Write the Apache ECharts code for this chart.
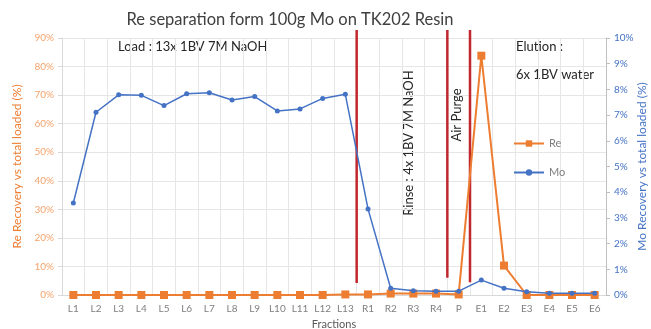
<!DOCTYPE html>
<html>
<head>
<meta charset="utf-8">
<script src="https://cdn.jsdelivr.net/npm/echarts@6/dist/echarts.min.js"></script>
<style>
  html, body { margin: 0; padding: 0; background: #fff; }
  #chart { width: 651px; height: 329px; }
</style>
</head>
<body>
<div id="chart"></div>
<script>
// fractions
const fractions = ['L1', 'L2', 'L3', 'L4', 'L5', 'L6', 'L7', 'L8', 'L9', 'L10', 'L11', 'L12', 'L13',
  'R1', 'R2', 'R3', 'R4', 'P', 'E1', 'E2', 'E3', 'E4', 'E5', 'E6']
// Re recovery (%), left axis
const reValues = [0, 0, 0, 0, 0, 0, 0, 0, 0, 0, 0, 0, 0.2,
  0.2, 0.5, 0.5, 0.5, 0.2, 83.8, 10.3, 0, 0, 0, 0]
// Mo recovery (%), right axis
const moValues = [3.58, 7.11, 7.79, 7.77, 7.37, 7.83, 7.87, 7.59, 7.72, 7.16, 7.24, 7.65, 7.81,
  3.35, 0.26, 0.17, 0.15, 0.15, 0.58, 0.26, 0.13, 0.07, 0.07, 0.07]
// phase separators (boundary index between categories) and their vertical extent on the left axis
const separators = [13, 17, 18]
const sepBottom = [4.2, 6, 4.5]
const sepTop = 92.8

const ORANGE = '#ED7D31'
const BLUE = '#4472C4'
const FONT = 'Lato'

const sepData = []
separators.forEach((s, i) => {
  if (i > 0) sepData.push(['-', '-'])
  sepData.push([s, sepBottom[i]], [s, sepTop])
})

const chart = echarts.init(document.getElementById('chart'))
chart.setOption({
  animation: false,
  textStyle: { fontFamily: FONT },
  title: {
    text: 'Re separation form 100g Mo on TK202 Resin',
    left: 285,
    textAlign: 'center',
    top: 6,
    textStyle: { fontSize: 16.5, fontWeight: 'normal', color: '#404040', fontFamily: FONT },
  },
  legend: {
    data: ['Re', 'Mo'],
    orient: 'vertical',
    left: 508,
    top: 133,
    itemWidth: 30,
    itemHeight: 8,
    itemGap: 18,
    textStyle: { fontSize: 11, color: '#7f7f7f', fontFamily: FONT },
  },
  grid: { left: 62, right: 45, top: 38, bottom: 34, outerBoundsMode: 'none', containLabel: false },
  xAxis: [{
    type: 'category',
    data: fractions,
    name: 'Fractions',
    nameLocation: 'middle',
    nameGap: 22,
    nameTextStyle: { fontSize: 11, color: '#595959' },
    axisLine: { lineStyle: { color: '#d9d9d9' } },
    axisTick: { show: false },
    axisLabel: { fontSize: 10, color: '#7f7f7f', margin: 9, interval: 0 },
    splitLine: { show: true, lineStyle: { color: '#e6e6e6' } },
  }, {
    type: 'value',
    min: 0,
    max: 24,
    show: false,
  }],
  yAxis: [{
    type: 'value',
    min: 0,
    max: 90,
    interval: 10,
    name: 'Re Recovery vs total loaded (%)',
    nameLocation: 'middle',
    nameGap: 38,
    nameTextStyle: { fontSize: 12, color: ORANGE },
    axisLine: { show: true, lineStyle: { color: '#d9d9d9' } },
    axisTick: { show: true, length: 4, lineStyle: { color: '#d9d9d9' } },
    axisLabel: { formatter: '{value}%', fontSize: 10, color: '#F4A36B', margin: 8 },
    splitLine: { lineStyle: { color: '#e6e6e6' } },
  }, {
    type: 'value',
    min: 0,
    max: 10,
    interval: 1,
    position: 'right',
    name: 'Mo Recovery vs total loaded (%)',
    nameLocation: 'middle',
    nameGap: 30,
    nameMoveOverlap: false,
    nameTextStyle: { fontSize: 12, color: BLUE },
    axisLine: { show: true, lineStyle: { color: '#bfbfbf' } },
    axisTick: { show: true, length: 4, lineStyle: { color: '#bfbfbf' } },
    axisLabel: { formatter: '{value}%', fontSize: 10, color: BLUE, margin: 8 },
    splitLine: { show: false },
  }],
  series: [{
    name: 'Re',
    type: 'line',
    data: reValues,
    yAxisIndex: 0,
    symbol: 'rect',
    symbolSize: 8,
    itemStyle: { color: ORANGE },
    lineStyle: { color: ORANGE, width: 2 },
    z: 3,
  }, {
    name: 'Mo',
    type: 'line',
    data: moValues,
    yAxisIndex: 1,
    symbol: 'circle',
    symbolSize: 5,
    itemStyle: { color: BLUE },
    lineStyle: { color: BLUE, width: 1.5 },
    z: 4,
  }, {
    name: 'sep',
    type: 'line',
    xAxisIndex: 1,
    yAxisIndex: 0,
    data: sepData,
    symbol: 'none',
    silent: true,
    clip: false,
    connectNulls: false,
    lineStyle: { color: '#C0282E', width: 2.5 },
    z: 2,
  }],
  graphic: [
    { type: 'text', left: 118, top: 40, style: { text: 'Load : 13x 1BV 7M NaOH', fontSize: 13, fill: '#262626', fontFamily: FONT } },
    { type: 'text', left: 516, top: 40, style: { text: 'Elution :', fontSize: 13, fill: '#262626', fontFamily: FONT } },
    { type: 'text', left: 516, top: 68, style: { text: '6x 1BV water', fontSize: 13, fill: '#262626', fontFamily: FONT } },
    { type: 'text', x: 409, y: 143, rotation: Math.PI / 2,
      style: { text: 'Rinse : 4x 1BV 7M NaOH', fontSize: 13, fill: '#262626', fontFamily: FONT, align: 'center', verticalAlign: 'middle' } },
    { type: 'text', x: 457, y: 115, rotation: Math.PI / 2,
      style: { text: 'Air Purge', fontSize: 13, fill: '#262626', fontFamily: FONT, align: 'center', verticalAlign: 'middle' } },
  ],
})
</script>
</body>
</html>
